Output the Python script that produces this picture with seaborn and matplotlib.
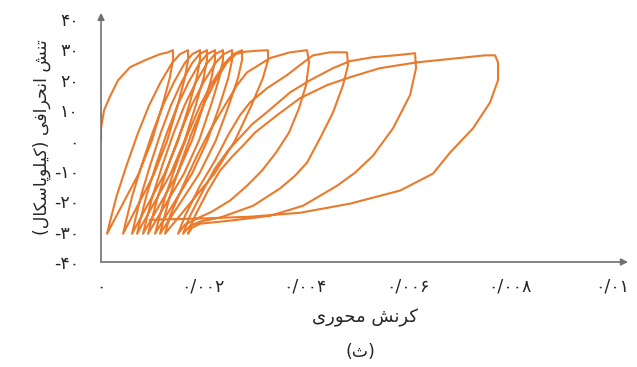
import numpy as np
import pandas as pd
import matplotlib
matplotlib.use("Agg")
import matplotlib.pyplot as plt
import seaborn as sns

# strain values are in units of 1e-3, stress in kPa
early_load_stress = [-30.7, -26.4, -18.2, -8.3, 2.3, 11.6, 19.1, 25.4, 28.4, 29.7]
early_unload_stress = [26.4, 20.5, 11.6, 0.0, -10.9, -20.8, -27.4, -30.7]

loop1_load_strain = [0, 0, 0.059, 0.176, 0.333, 0.568, 0.861, 1.155, 1.311, 1.409]
loop1_load_stress = [0, 4.0, 9.9, 14.5, 19.8, 24.1, 26.4, 28.4, 29.0, 29.7]
loop1_unload_strain = [1.409, 1.344, 1.202, 0.996, 0.738, 0.427, 0.221, 0.117]

loop2_load_strain = [0.117, 0.180, 0.307, 0.498, 0.720, 0.942, 1.164, 1.386, 1.545, 1.703]
loop2_unload_strain = [1.703, 1.639, 1.499, 1.296, 1.042, 0.736, 0.533, 0.431]
loop3_load_strain = [0.431, 0.491, 0.612, 0.792, 1.003, 1.214, 1.425, 1.636, 1.787, 1.937]
loop3_unload_strain = [1.937, 1.871, 1.724, 1.511, 1.245, 0.926, 0.713, 0.607]
loop4_load_strain = [0.607, 0.666, 0.783, 0.959, 1.164, 1.370, 1.575, 1.781, 1.927, 2.074]
loop4_unload_strain = [2.074, 2.006, 1.855, 1.636, 1.362, 1.034, 0.815, 0.705]
loop5_load_strain = [0.705, 0.766, 0.888, 1.071, 1.285, 1.499, 1.712, 1.926, 2.078, 2.231]
loop5_unload_strain = [2.231, 2.161, 2.006, 1.780, 1.498, 1.160, 0.935, 0.822]
loop6_load_strain = [0.822, 0.885, 1.010, 1.198, 1.417, 1.636, 1.855, 2.074, 2.231, 2.387]
loop6_unload_strain = [2.387, 2.314, 2.152, 1.918, 1.624, 1.272, 1.037, 0.920]
loop7_load_strain = [0.920, 0.986, 1.117, 1.315, 1.545, 1.775, 2.005, 2.235, 2.400, 2.564]
loop7_unload_strain = [2.564, 2.489, 2.323, 2.082, 1.780, 1.419, 1.178, 1.057]
loop8_load_strain = [1.057, 1.125, 1.261, 1.465, 1.704, 1.942, 2.180, 2.419, 2.589, 2.759]
loop8_unload_strain = [2.759, 2.679, 2.502, 2.246, 1.925, 1.540, 1.283, 1.155]

loop9_load_strain = [1.155, 1.220, 1.350, 1.545, 1.772, 2.000, 2.227, 2.454, 2.636, 2.818, 3.050, 3.268]
loop9_load_stress = [-30.7, -26.4, -18.2, -8.3, 2.3, 11.6, 19.1, 25.4, 28.4, 29.2, 29.5, 29.7]
loop9_unload_strain = [3.268, 3.167, 2.945, 2.623, 2.220, 1.736, 1.413, 1.252]

loop10_load_strain = [1.252, 1.350, 1.605, 1.879, 2.133, 2.427, 2.661, 2.857, 3.307, 3.699, 4.031]
loop10_load_stress = [-30.7, -24.8, -14.9, -5.0, 3.3, 11.6, 18.2, 22.4, 27.1, 29.0, 29.7]
loop10_unload_strain = [4.071, 4.012, 3.875, 3.679, 3.425, 3.151, 2.857, 2.524, 2.172, 1.879, 1.644, 1.507]
loop10_unload_stress = [25.7, 18.2, 10.6, 2.6, -4.0, -9.9, -14.9, -19.8, -23.4, -25.7, -27.7, -30.7]

loop11_load_strain = [1.507, 1.644, 1.937, 2.231, 2.485, 2.720, 2.916, 3.249, 3.640, 3.894, 4.149, 4.481, 4.814]
loop11_load_stress = [-30.7, -24.8, -14.9, -6.6, 1.7, 8.3, 12.5, 17.2, 21.5, 24.8, 28.0, 29.0, 29.0]
loop11_unload_strain = [4.834, 4.736, 4.540, 4.286, 4.031, 3.797, 3.503, 2.975, 2.329, 1.937, 1.742, 1.605]
loop11_unload_stress = [24.8, 18.2, 9.2, 0.7, -7.3, -11.6, -15.8, -21.5, -25.4, -26.7, -28.1, -30.7]

loop12_load_strain = [1.605, 1.742, 1.996, 2.231, 2.485, 2.720, 2.955, 3.268, 3.699, 4.090, 4.540, 4.873, 5.323, 5.754, 6.145]
loop12_load_stress = [-30.7, -24.8, -16.5, -9.2, -3.3, 1.0, 5.3, 9.6, 15.8, 19.8, 23.8, 26.1, 27.4, 28.0, 28.7]
loop12_unload_strain = [6.165, 6.047, 5.714, 5.323, 4.971, 4.619, 3.953, 3.307, 2.524, 1.937, 1.781, 1.703]
loop12_unload_stress = [23.8, 14.9, 4.0, -5.0, -10.6, -14.9, -21.5, -24.8, -26.4, -27.4, -28.7, -30.7]

loop13_load_strain = [1.703, 1.840, 2.094, 2.329, 2.583, 2.779, 3.014, 3.444, 3.894, 4.423, 4.873, 5.460, 6.184, 7.163, 7.515, 7.711]
loop13_load_stress = [-30.7, -24.8, -16.5, -9.9, -5.0, -1.7, 2.6, 8.3, 13.9, 18.2, 20.8, 23.8, 25.7, 27.4, 28.0, 28.0]
loop13_unload_strain = [7.769, 7.769, 7.613, 7.280, 6.830, 6.497, 5.851, 4.873, 3.894, 2.916, 1.937, 0.959]
loop13_unload_stress = [25.7, 19.8, 12.5, 4.0, -4.0, -10.9, -16.5, -20.8, -23.8, -25.1, -25.7, -26.1]

x_ticks = [0, 0.002, 0.004, 0.006, 0.008, 0.01]
x_tick_labels = ["۰", "۰/۰۰۲", "۰/۰۰۴", "۰/۰۰۶", "۰/۰۰۸", "۰/۰۱"]
y_ticks = [-40, -30, -20, -10, 0, 10, 20, 30, 40]
y_tick_labels = ["-۴۰", "-۳۰", "-۲۰", "-۱۰", "۰", "۱۰", "۲۰", "۳۰", "۴۰"]

# persian labels written in presentation forms, visual order (matplotlib has no shaping)
x_label = "\uFBFC\uFEAD\uFEEE\uFEA4\uFEE3 \uFEB6\uFEE7\uFEAE\uFB90"
y_label = ("(\uFEDD\uFE8E\uFB91\uFEB3\uFE8E\uFB58\uFEEE\uFEE0\uFBFF\uFB90) "
           "\uFBFD\uFED3\uFE8D\uFEAE\uFEA4\uFEE7\uFE8D \uFEB6\uFEE8\uFE97")
caption = "(\uFE99)"

# build the continuous test record
strain_parts = [loop1_load_strain, loop1_unload_strain]
stress_parts = [loop1_load_stress, early_unload_stress]
early = [(loop2_load_strain, loop2_unload_strain), (loop3_load_strain, loop3_unload_strain),
         (loop4_load_strain, loop4_unload_strain), (loop5_load_strain, loop5_unload_strain),
         (loop6_load_strain, loop6_unload_strain), (loop7_load_strain, loop7_unload_strain),
         (loop8_load_strain, loop8_unload_strain)]
for ld, ul in early:
    strain_parts += [ld, ul]
    stress_parts += [early_load_stress, early_unload_stress]
strain_parts += [loop9_load_strain, loop9_unload_strain]
stress_parts += [loop9_load_stress, early_unload_stress]
strain_parts += [loop10_load_strain, loop10_unload_strain, loop11_load_strain, loop11_unload_strain,
                 loop12_load_strain, loop12_unload_strain, loop13_load_strain, loop13_unload_strain]
stress_parts += [loop10_load_stress, loop10_unload_stress, loop11_load_stress, loop11_unload_stress,
                 loop12_load_stress, loop12_unload_stress, loop13_load_stress, loop13_unload_stress]

df = pd.DataFrame({
    "strain": np.concatenate(strain_parts) * 1e-3,
    "stress": np.concatenate(stress_parts),
})

sns.set_style("white")
plt.rcParams["font.family"] = ["DejaVu Sans"]

fig = plt.figure(figsize=(6.37, 3.67), dpi=100)
ax = fig.add_axes([0.1586, 0.2861, 0.8273, 0.679])

sns.lineplot(data=df, x="strain", y="stress", sort=False, estimator=None,
             color="#EA7A2C", lw=1.5, ax=ax)

ax.set_xlim(0, 0.010313)
ax.set_ylim(-40, 42)
for s in ax.spines.values():
    s.set_visible(False)

axis_color = "#707070"
ax.annotate("", xy=(1, 0), xytext=(0, 0), xycoords="axes fraction",
            arrowprops=dict(arrowstyle="-|>", color=axis_color, lw=1.2,
                            mutation_scale=10, shrinkA=0, shrinkB=0))
ax.annotate("", xy=(0, 1), xytext=(0, 0), xycoords="axes fraction",
            arrowprops=dict(arrowstyle="-|>", color=axis_color, lw=1.2,
                            mutation_scale=10, shrinkA=0, shrinkB=0))

ax.set_xticks(x_ticks)
ax.set_xticklabels(x_tick_labels, fontsize=12.5)
ax.set_yticks(y_ticks)
ax.set_yticklabels(y_tick_labels, fontsize=12.5)
ax.tick_params(axis="x", length=0, pad=11)
ax.tick_params(axis="y", length=0, pad=16)

ax.set_xlabel(x_label, fontsize=13, labelpad=10)
ax.set_ylabel(y_label, fontsize=12.5, labelpad=2)
fig.text(0.566, 0.04, caption, fontsize=12.5, ha="center", va="center")

fig.savefig("out.png", dpi=100)
